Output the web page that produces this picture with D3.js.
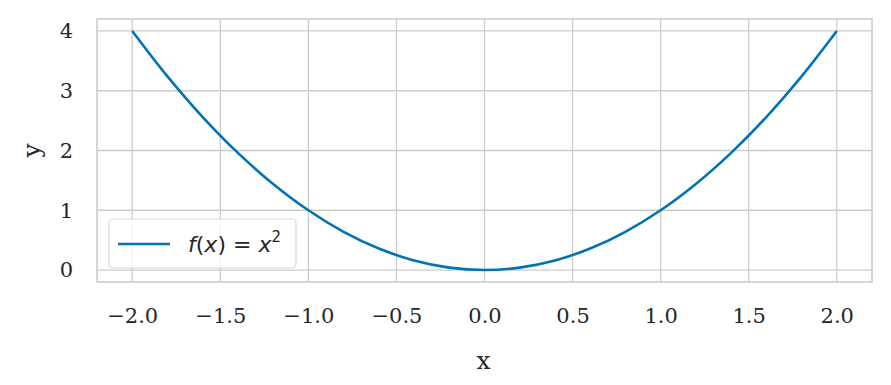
<!DOCTYPE html>
<html>
<head>
<meta charset="utf-8">
<script src="https://cdn.jsdelivr.net/npm/d3@7"></script>
<style>
  body { margin: 0; background: #fff; }
  svg { display: block; }
  .tick text { font-family: "DejaVu Serif", serif; font-size: 21px; fill: #262626; }
</style>
</head>
<body>
<svg id="chart" width="891" height="385"></svg>
<script>
var xValues = [-2.0, -1.8, -1.6, -1.4, -1.2, -1.0, -0.8, -0.6, -0.4, -0.2, 0.0,
               0.2, 0.4, 0.6, 0.8, 1.0, 1.2, 1.4, 1.6, 1.8, 2.0];
var yValues = [4.0, 3.24, 2.56, 1.96, 1.44, 1.0, 0.64, 0.36, 0.16, 0.04, 0.0,
               0.04, 0.16, 0.36, 0.64, 1.0, 1.44, 1.96, 2.56, 3.24, 4.0];
var xTicks = [-2.0, -1.5, -1.0, -0.5, 0.0, 0.5, 1.0, 1.5, 2.0];
var yTicks = [0, 1, 2, 3, 4];

var margin = {left: 97, top: 19, right: 19, bottom: 103};
var width = 891 - margin.left - margin.right;
var height = 385 - margin.top - margin.bottom;

var svg = d3.select('#chart');
var g = svg.append('g').attr('transform', 'translate(' + margin.left + ',' + margin.top + ')');

var x = d3.scaleLinear().domain([-2.2, 2.2]).range([0, width]);
var y = d3.scaleLinear().domain([-0.2, 4.2]).range([height, 0]);

var minus = function (s) { return s.replace('-', '\u2212'); };

// grid
g.append('g').selectAll('line').data(xTicks).enter().append('line')
    .attr('x1', function (d) { return x(d); }).attr('x2', function (d) { return x(d); })
    .attr('y1', 0).attr('y2', height)
    .attr('stroke', '#cccccc').attr('stroke-width', 1.3);
g.append('g').selectAll('line').data(yTicks).enter().append('line')
    .attr('y1', function (d) { return y(d); }).attr('y2', function (d) { return y(d); })
    .attr('x1', 0).attr('x2', width)
    .attr('stroke', '#cccccc').attr('stroke-width', 1.3);

// axes
var xAxis = g.append('g').attr('transform', 'translate(0,' + height + ')')
    .call(d3.axisBottom(x).tickValues(xTicks).tickSize(0).tickPadding(26)
        .tickFormat(function (d) { return minus(d3.format('.1f')(d)); }));
xAxis.select('.domain').remove();

var yAxis = g.append('g')
    .call(d3.axisLeft(y).tickValues(yTicks).tickSize(0).tickPadding(24)
        .tickFormat(d3.format('d')));
yAxis.select('.domain').remove();

// frame
g.append('rect').attr('x', 0).attr('y', 0).attr('width', width).attr('height', height)
    .attr('fill', 'none').attr('stroke', '#cccccc').attr('stroke-width', 1.6);

// curve
var line = d3.line()
    .x(function (d, i) { return x(xValues[i]); })
    .y(function (d) { return y(d); })
    .curve(d3.curveCatmullRom.alpha(0.5));

g.append('path').datum(yValues)
    .attr('d', line)
    .attr('fill', 'none')
    .attr('stroke', '#0173b2')
    .attr('stroke-width', 2.6);

// axis labels
svg.append('text').attr('x', margin.left + width / 2 - 1).attr('y', 369)
    .attr('text-anchor', 'middle')
    .style('font-family', '"DejaVu Serif", serif').style('font-size', '25px').style('fill', '#262626')
    .text('x');
svg.append('text')
    .attr('transform', 'translate(40,' + (margin.top + height / 2) + ') rotate(-90)')
    .attr('text-anchor', 'middle')
    .style('font-family', '"DejaVu Serif", serif').style('font-size', '25px').style('fill', '#262626')
    .text('y');

// legend
var leg = svg.append('g').attr('transform', 'translate(109,219)');
leg.append('rect').attr('width', 187).attr('height', 49).attr('rx', 4)
    .attr('fill', 'rgba(255,255,255,0.8)').attr('stroke', '#d9d9d9').attr('stroke-width', 1.2);
leg.append('line').attr('x1', 9).attr('x2', 61).attr('y1', 25).attr('y2', 25)
    .attr('stroke', '#0173b2').attr('stroke-width', 2.6);
var lt = leg.append('text').attr('x', 79).attr('y', 33).attr('xml:space', 'preserve')
    .style('font-family', '"DejaVu Sans", sans-serif').style('font-size', '22px').style('fill', '#262626')
    .style('white-space', 'pre');
lt.append('tspan').style('font-style', 'italic').text('f');
lt.append('tspan').text('(');
lt.append('tspan').style('font-style', 'italic').text('x');
lt.append('tspan').text(') = ');
lt.append('tspan').style('font-style', 'italic').text('x');
lt.append('tspan').attr('dy', -10).style('font-size', '15px').text('2');
</script>
</body>
</html>
